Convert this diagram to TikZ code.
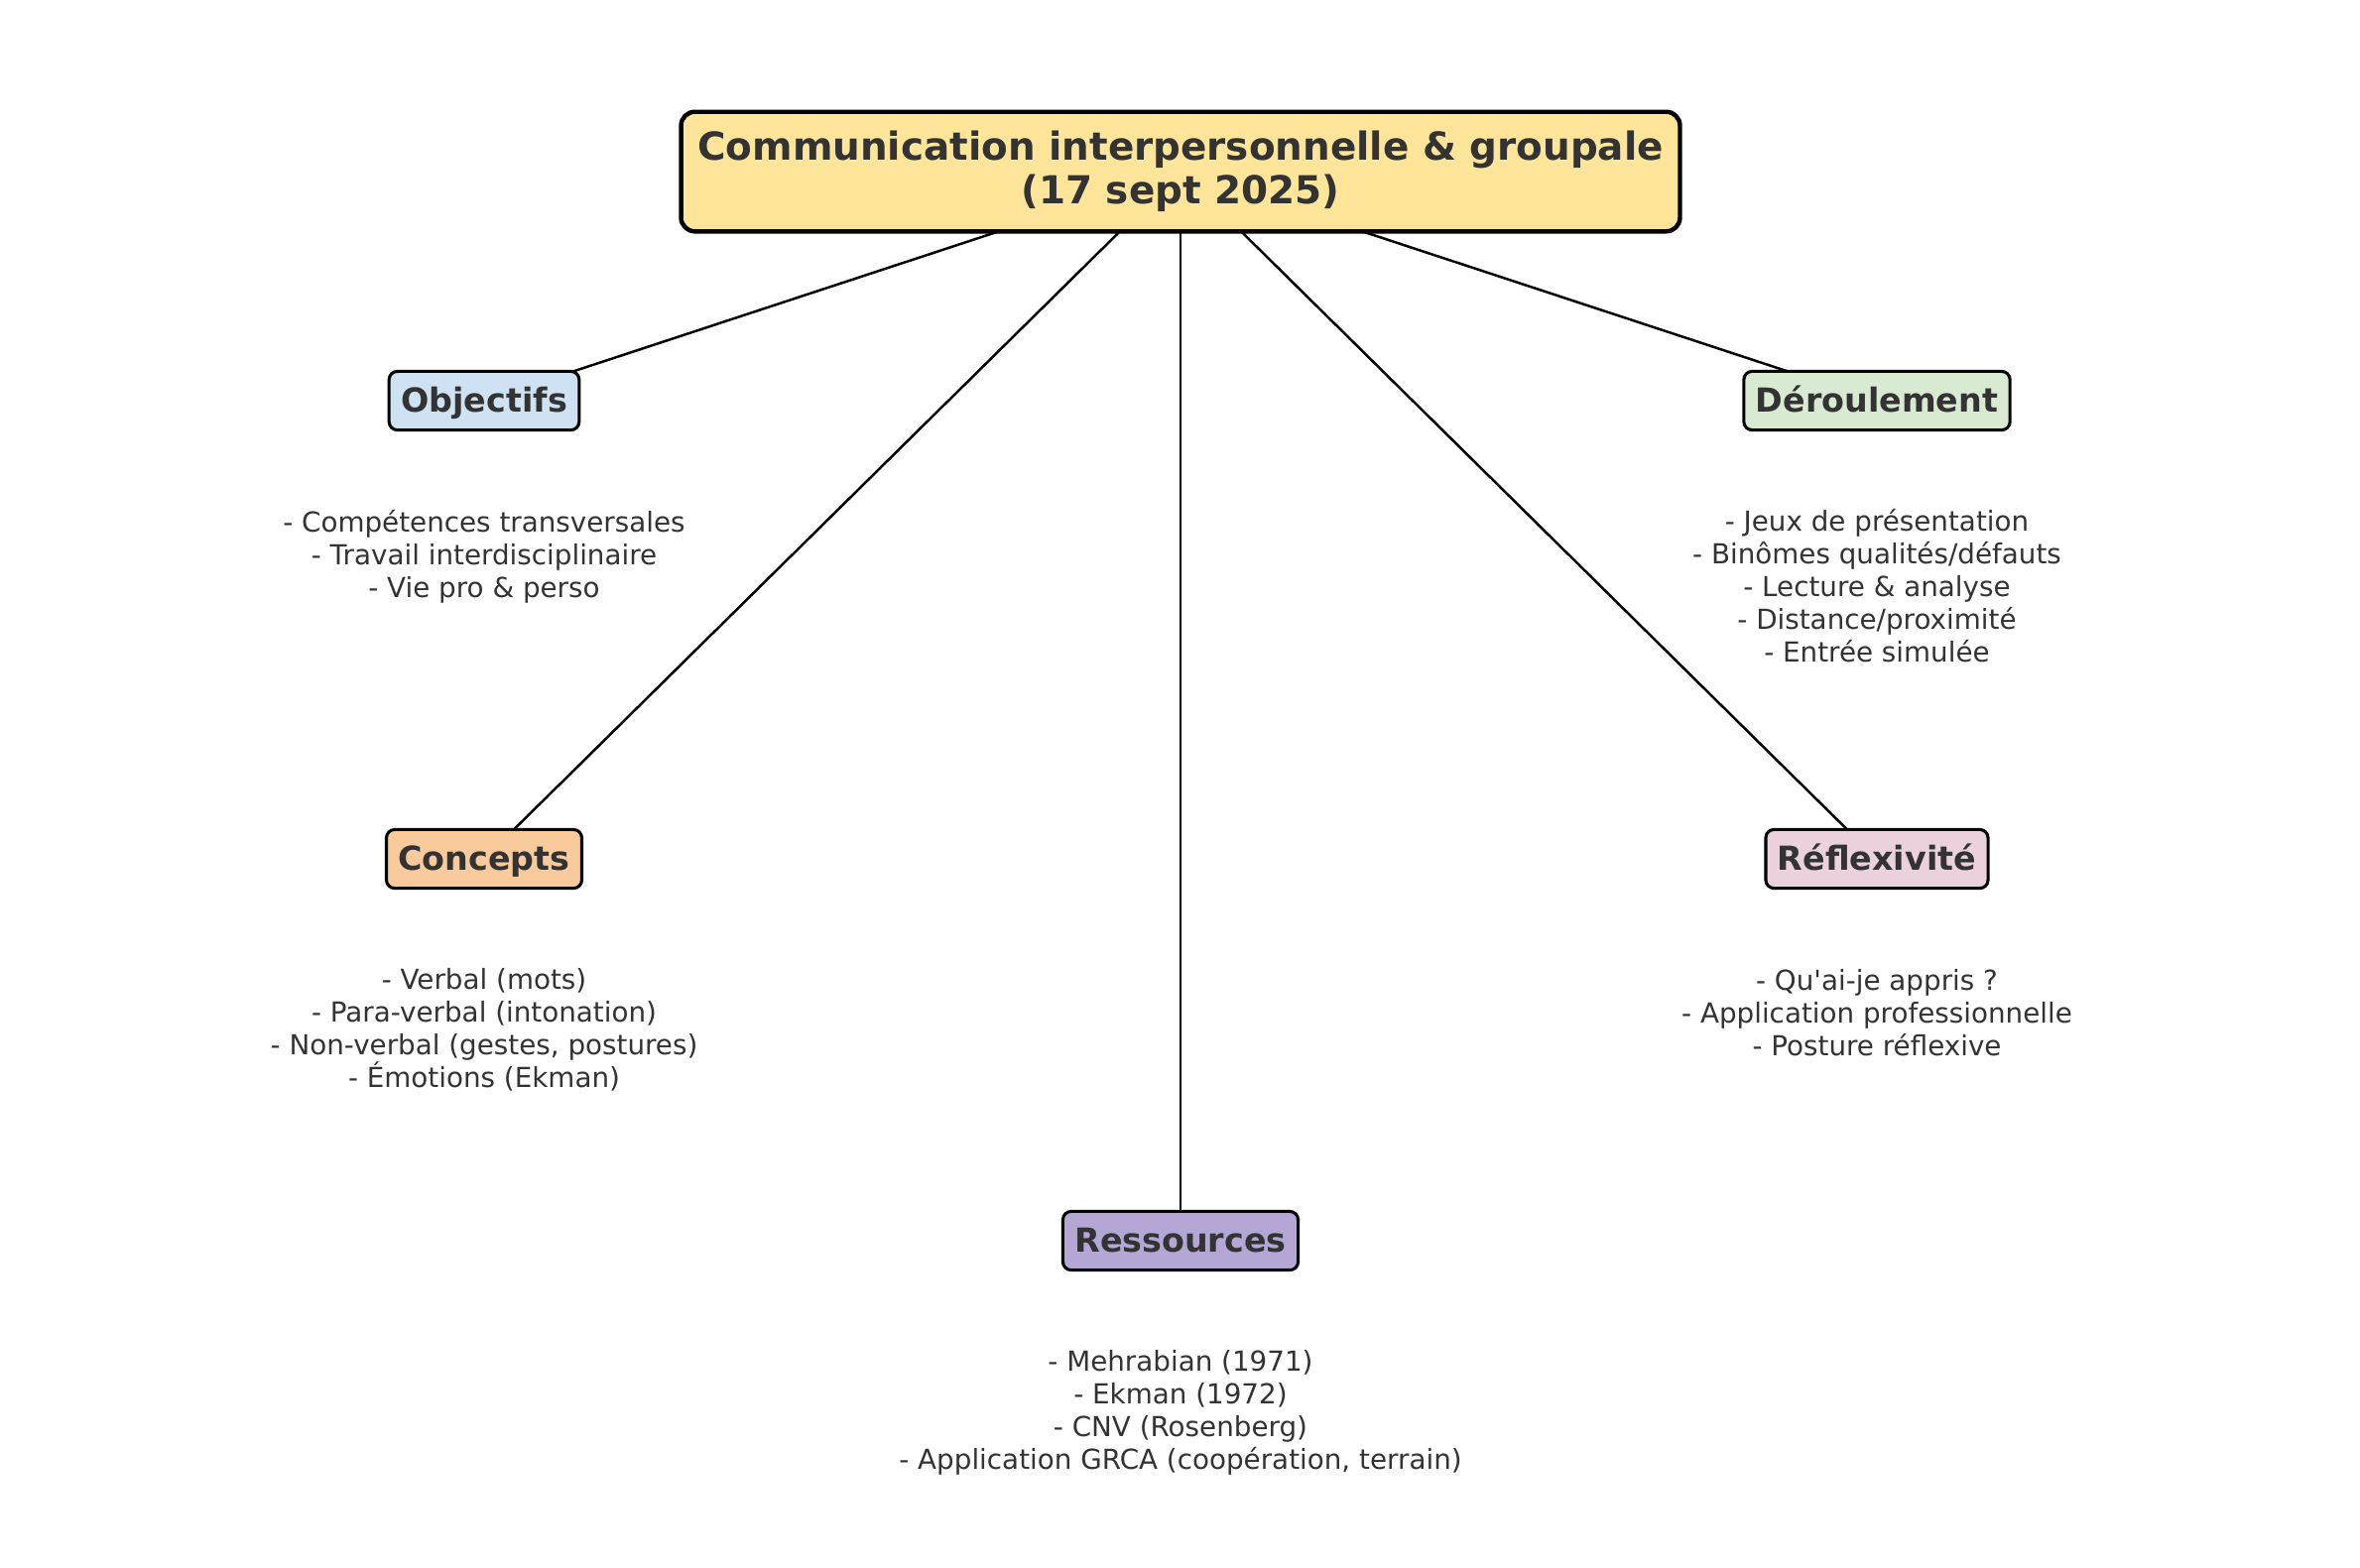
\documentclass[tikz,border=0pt]{standalone}
\usepackage{fontspec}
\setmainfont{DejaVu Sans}
\usetikzlibrary{backgrounds}
\definecolor{txt}{HTML}{333333}
\definecolor{cmain}{HTML}{FFE599}
\definecolor{cobj}{HTML}{CFE2F3}
\definecolor{cder}{HTML}{D9EAD3}
\definecolor{ccon}{HTML}{F9CB9C}
\definecolor{cref}{HTML}{EAD1DC}
\definecolor{cres}{HTML}{B4A7D6}
\begin{document}
\begin{tikzpicture}[x=0.36pt,y=-0.36pt,
  lbl/.style={draw=black, line width=1.1pt, rounded corners=3pt, inner xsep=4.3pt, inner ysep=0pt,
    minimum height=21.3pt, text height=9.8pt, text depth=1.2pt,
    font=\bfseries\fontsize{12}{14}\selectfont, text=txt},
  mainbox/.style={draw=black, line width=1.6pt, rounded corners=5pt, fill=cmain, align=center,
    minimum width=362.5pt, minimum height=43.4pt, inner sep=0pt,
    font=\bfseries\fontsize{14}{15.84}\selectfont, text=txt},
  desc/.style={align=center, anchor=base, inner sep=0pt, font=\fontsize{10}{11.8}\selectfont, text=txt},
  edge/.style={line width=0.9pt, draw=black}]
\useasboundingbox (0,0) rectangle (2379,1580);
\node[mainbox] (main) at (1190,173) {Communication interpersonnelle \& groupale\\(17 sept 2025)};
\node[lbl, fill=cobj] (obj) at (488,404) {Objectifs};
\node[lbl, fill=cder] (der) at (1892,404) {Déroulement};
\node[lbl, fill=ccon] (con) at (488,866) {Concepts};
\node[lbl, fill=cref] (ref) at (1892,866) {Réflexivité};
\node[lbl, fill=cres] (res) at (1190,1251) {Ressources};
\node[desc] (dobj) at (488,602) {- Compétences transversales\\- Travail interdisciplinaire\\- Vie pro \& perso};
\node[desc] (dder) at (1892,667) {- Jeux de présentation\\- Binômes qualités/défauts\\- Lecture \& analyse\\- Distance/proximité\\- Entrée simulée};
\node[desc] (dcon) at (488,1096) {- Verbal (mots)\\- Para-verbal (intonation)\\- Non-verbal (gestes, postures)\\- Émotions (Ekman)};
\node[desc] (dref) at (1892,1064) {- Qu\textquotesingle ai-je appris ?\\- Application professionnelle\\- Posture réflexive};
\node[desc] (dres) at (1190,1481) {- Mehrabian (1971)\\- Ekman (1972)\\- CNV (Rosenberg)\\- Application GRCA (coopération, terrain)};
\begin{scope}[on background layer]
\draw[edge] (main.center) -- (obj.center);
\draw[edge] (main.center) -- (der.center);
\draw[edge] (main.center) -- (con.center);
\draw[edge] (main.center) -- (ref.center);
\draw[edge] (main.center) -- (res.center);
\end{scope}
\end{tikzpicture}
\end{document}
